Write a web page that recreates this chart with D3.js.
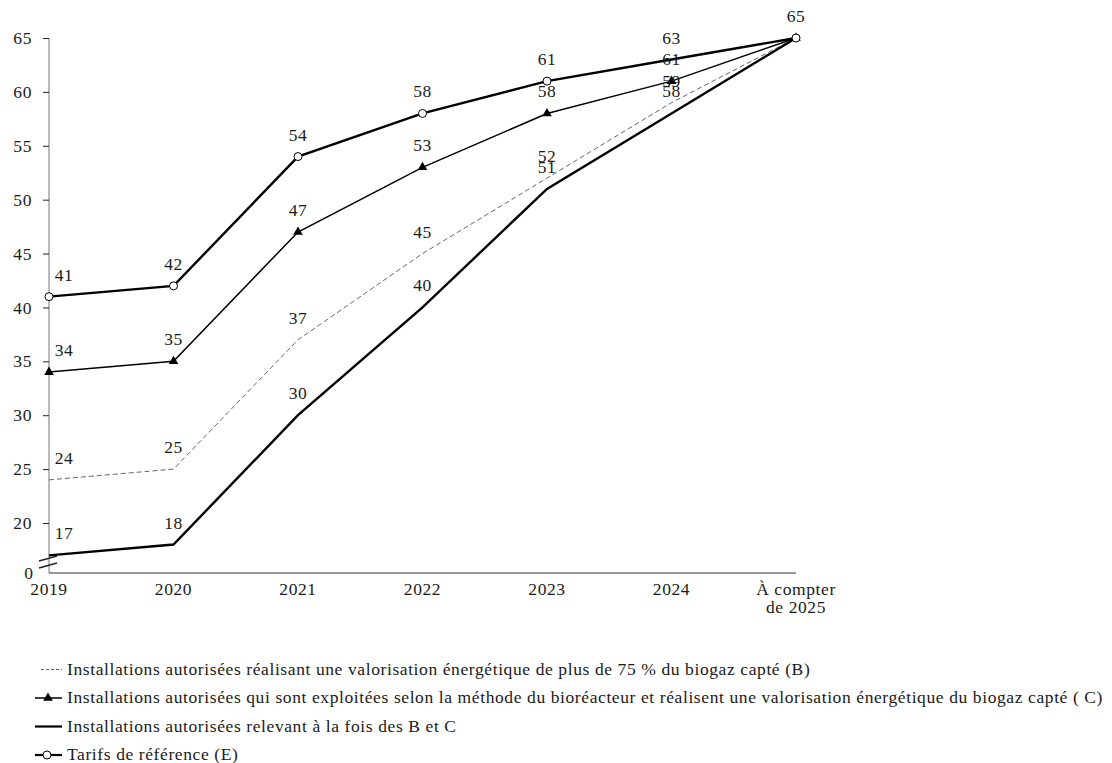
<!DOCTYPE html>
<html>
<head>
<meta charset="utf-8">
<script src="https://cdn.jsdelivr.net/npm/d3@7"></script>
<style>
  html, body { margin: 0; padding: 0; background: #fff; }
  svg { display: block; font-family: "Liberation Serif", "DejaVu Serif", serif; }
</style>
</head>
<body>
<svg id="chart" width="1112" height="763"></svg>
<script>
// Years on the horizontal axis
const categories = ["2019", "2020", "2021", "2022", "2023", "2024", "À compter de 2025"];

// Series values
const seriesB = [24, 25, 37, 45, 52, 59, 65];   // valorisation > 75 %
const seriesC = [34, 35, 47, 53, 58, 61, 65];   // bioréacteur + valorisation
const seriesBC = [17, 18, 30, 40, 51, 58, 65];  // B et C
const seriesE = [41, 42, 54, 58, 61, 63, 65];   // tarifs de référence

// Y tick labels (the axis is broken between 0 and 20)
const yTicks = [20, 25, 30, 35, 40, 45, 50, 55, 60, 65];
const yZeroLabel = "0";

const legendLabels = [
  "Installations autorisées réalisant une valorisation énergétique de plus de 75 % du biogaz capté (B)",
  "Installations autorisées qui sont exploitées selon la méthode du bioréacteur et réalisent une valorisation énergétique du biogaz capté ( C)",
  "Installations autorisées relevant à la fois des B et C",
  "Tarifs de référence (E)"
];

const svg = d3.select("#chart");
const plotLeft = 49, plotRight = 796, plotTop = 38, plotBottom = 573;
const axisFloor = 15.36; // value drawn at the broken-axis baseline

const x = d3.scalePoint().domain(categories).range([plotLeft, plotRight]);
const y = d3.scaleLinear().domain([axisFloor, 65]).range([plotBottom, plotTop]);

const fontSize = 17.5;
const spacing = 0.6;
const ink = "#1a1a1a";

// Y axis
const yAxis = d3.axisLeft(y).tickValues(yTicks).tickSize(6).tickPadding(11);
const gy = svg.append("g").attr("transform", `translate(${plotLeft},0)`).call(yAxis);
gy.select(".domain").attr("stroke", "#777").attr("d", `M0,${plotTop}V${plotBottom}`);
gy.selectAll(".tick line").attr("stroke", "#222").attr("x2", -6);
gy.selectAll(".tick text").attr("font-size", fontSize).attr("fill", ink)
  .attr("font-family", "Liberation Serif, serif").attr("letter-spacing", spacing);

// Zero label at the baseline
svg.append("text").attr("x", plotLeft - 16).attr("y", plotBottom).attr("dy", "0.32em")
  .attr("text-anchor", "end").attr("font-size", fontSize).attr("fill", ink).text(yZeroLabel);

// Axis break marks
[0, 7].forEach(o => {
  svg.append("line").attr("x1", plotLeft - 10).attr("x2", plotLeft + 8)
    .attr("y1", plotBottom - 5 - o).attr("y2", plotBottom - 10 - o)
    .attr("stroke", "#222").attr("stroke-width", 1.3);
});

// X axis line
svg.append("line").attr("x1", plotLeft).attr("x2", plotRight).attr("y1", plotBottom).attr("y2", plotBottom)
  .attr("stroke", "#333").attr("stroke-width", 1.2);

// X labels
categories.forEach(c => {
  const t = svg.append("text").attr("x", x(c)).attr("y", plotBottom + 22)
    .attr("text-anchor", "middle").attr("font-size", fontSize).attr("fill", ink)
    .attr("letter-spacing", spacing);
  if (c.startsWith("À")) {
    t.append("tspan").attr("x", x(c)).text("À compter");
    t.append("tspan").attr("x", x(c)).attr("dy", 18).text("de 2025");
  } else {
    t.text(c);
  }
});

const line = d3.line().x((d, i) => x(categories[i])).y(d => y(d));

// Series B (dashed grey)
svg.append("path").datum(seriesB).attr("d", line).attr("fill", "none")
  .attr("stroke", "#666").attr("stroke-width", 1).attr("stroke-dasharray", "5,3");

// Series B et C (thick)
svg.append("path").datum(seriesBC).attr("d", line).attr("fill", "none")
  .attr("stroke", "#000").attr("stroke-width", 2.4);

// Series C (medium, triangles)
svg.append("path").datum(seriesC).attr("d", line).attr("fill", "none")
  .attr("stroke", "#000").attr("stroke-width", 1.5);

// Series E (thick, circles)
svg.append("path").datum(seriesE).attr("d", line).attr("fill", "none")
  .attr("stroke", "#000").attr("stroke-width", 2.4);

const tri = d3.symbol().type(d3.symbolTriangle).size(40);
svg.append("g").selectAll("path").data(seriesC).join("path")
  .attr("d", tri)
  .attr("transform", (d, i) => `translate(${x(categories[i])},${y(d)})`)
  .attr("fill", "#000");

svg.append("g").selectAll("circle").data(seriesE.map((v, i) => ({ v, i })).filter(d => d.i !== 5)).join("circle")
  .attr("cx", d => x(categories[d.i])).attr("cy", d => y(d.v)).attr("r", 4)
  .attr("fill", "#fff").attr("stroke", "#000").attr("stroke-width", 1);

// Value labels above each point
function labels(values, skipLast) {
  values.forEach((v, i) => {
    if (skipLast && i === values.length - 1) return;
    const cx = x(categories[i]) + (i === 0 ? 15 : 0);
    svg.append("text").attr("x", cx).attr("y", y(v) - 16)
      .attr("text-anchor", "middle").attr("font-size", fontSize).attr("fill", ink)
      .attr("letter-spacing", spacing).text(v);
  });
}
labels(seriesB, true);
labels(seriesBC, true);
labels(seriesC, true);
labels(seriesE, false);

// Legend
const legY0 = 669.5, legStep = 28.5;
legendLabels.forEach((lab, i) => {
  const ly = legY0 + i * legStep;
  const g = svg.append("g");
  if (i === 0) {
    g.append("line").attr("x1", 41).attr("x2", 62).attr("y1", ly).attr("y2", ly)
      .attr("stroke", "#666").attr("stroke-width", 1).attr("stroke-dasharray", "3,2");
  } else {
    g.append("line").attr("x1", 35).attr("x2", 62).attr("y1", ly).attr("y2", ly)
      .attr("stroke", "#000").attr("stroke-width", i === 1 ? 1.5 : 2.2);
    if (i === 1) {
      g.append("path").attr("d", tri).attr("transform", `translate(48,${ly})`).attr("fill", "#000");
    }
    if (i === 3) {
      g.append("circle").attr("cx", 47).attr("cy", ly).attr("r", 4)
        .attr("fill", "#fff").attr("stroke", "#000");
    }
  }
  g.append("text").attr("x", 67).attr("y", ly).attr("dy", "0.3em")
    .attr("font-size", fontSize).attr("fill", ink).attr("letter-spacing", spacing).text(lab);
});
</script>
</body>
</html>
